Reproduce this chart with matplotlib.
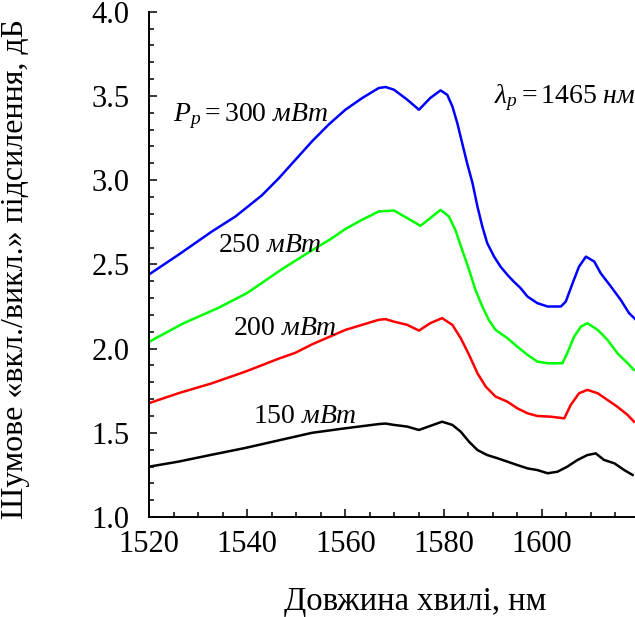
import matplotlib
matplotlib.use("Agg")
import matplotlib.pyplot as plt
from matplotlib.ticker import MultipleLocator, FormatStrFormatter

plt.rcParams["font.family"] = ["Liberation Serif", "DejaVu Serif"]
plt.rcParams["mathtext.fontset"] = "custom"
plt.rcParams["mathtext.rm"] = "Liberation Serif"
plt.rcParams["mathtext.it"] = "Liberation Serif:italic"
plt.rcParams["mathtext.bf"] = "Liberation Serif:bold"

# Noise on/off gain spectra for several pump powers (pump at 1465 nm)
wl_300 = [1520, 1526.0, 1532.8, 1537.6, 1543.0, 1546.4, 1549.8, 1553.2, 1556.6, 1560.0,
          1563.4, 1566.8, 1568.2, 1569.9, 1572.6, 1575.0, 1577.3, 1579.4, 1580.75, 1581.8,
          1582.8, 1583.8, 1584.8, 1585.9, 1586.9, 1587.9, 1588.9, 1590.3, 1591.6, 1593.0,
          1594.3, 1595.7, 1597.1, 1599.1, 1601.2, 1603.9, 1604.9, 1606.3, 1607.6, 1609.0,
          1610.7, 1612.0, 1614.1, 1616.1, 1617.8, 1619.2]
gain_300 = [2.44, 2.557, 2.695, 2.784, 2.91, 3.01, 3.12, 3.23, 3.33, 3.418,
            3.487, 3.547, 3.553, 3.537, 3.478, 3.418, 3.488, 3.533, 3.507, 3.438,
            3.339, 3.220, 3.101, 2.983, 2.844, 2.725, 2.626, 2.546, 2.487, 2.438,
            2.398, 2.359, 2.309, 2.270, 2.250, 2.250, 2.279, 2.389, 2.487, 2.546,
            2.517, 2.448, 2.368, 2.289, 2.210, 2.171]

wl_250 = [1520, 1527.0, 1534.0, 1540.0, 1547.0, 1553.0, 1557.0, 1560.0,
          1563.4, 1566.8, 1569.9, 1572.6, 1575.3, 1577.3, 1579.4, 1581.1, 1582.4, 1583.8,
          1585.2, 1586.5, 1587.9, 1589.2, 1590.6, 1593.0, 1595.0, 1597.1, 1599.1, 1601.2,
          1604.2, 1605.2, 1606.6, 1608.0, 1609.3, 1611.4, 1613.4, 1615.4, 1617.5, 1618.8]
gain_250 = [2.04, 2.15, 2.24, 2.33, 2.47, 2.58, 2.65, 2.71,
            2.765, 2.814, 2.820, 2.775, 2.729, 2.775, 2.824, 2.784, 2.705, 2.586,
            2.468, 2.349, 2.250, 2.171, 2.111, 2.062, 2.012, 1.963, 1.923, 1.913,
            1.913, 1.973, 2.071, 2.131, 2.151, 2.111, 2.052, 1.973, 1.913, 1.873]

wl_200 = [1520, 1526.0, 1532.8, 1539.6, 1546.4, 1549.8, 1553.2, 1560.0, 1566.8, 1568.2,
          1569.9, 1572.6, 1575.0, 1577.3, 1579.7, 1581.8, 1583.5, 1585.2, 1586.9, 1588.6,
          1590.6, 1593.0, 1595.0, 1597.1, 1599.1, 1601.8, 1604.6, 1605.9, 1607.6, 1609.3,
          1611.4, 1613.4, 1615.4, 1617.5, 1618.8]
gain_200 = [1.676, 1.735, 1.794, 1.863, 1.94, 1.975, 2.025, 2.111, 2.171, 2.175,
            2.160, 2.141, 2.107, 2.151, 2.181, 2.141, 2.062, 1.963, 1.854, 1.774,
            1.715, 1.685, 1.646, 1.616, 1.600, 1.596, 1.586, 1.665, 1.735, 1.755,
            1.735, 1.695, 1.655, 1.606, 1.566]

wl_150 = [1520, 1526.0, 1532.8, 1539.6, 1546.4, 1553.2, 1560.0, 1566.8, 1568.2, 1569.9,
          1572.6, 1575.0, 1577.3, 1579.7, 1581.8, 1583.5, 1585.2, 1586.9, 1588.9, 1591.0,
          1593.0, 1595.0, 1597.1, 1599.1, 1601.2, 1603.2, 1605.2, 1607.3, 1609.3, 1611.0,
          1612.7, 1614.8, 1616.8, 1618.5]
gain_150 = [1.299, 1.329, 1.37, 1.41, 1.455, 1.50, 1.527, 1.552, 1.555, 1.547,
            1.537, 1.517, 1.541, 1.566, 1.547, 1.507, 1.447, 1.398, 1.368, 1.349,
            1.329, 1.309, 1.289, 1.279, 1.260, 1.269, 1.299, 1.339, 1.368, 1.378,
            1.339, 1.319, 1.279, 1.250]

series = [
    (wl_300, gain_300, "#0000ff"),
    (wl_250, gain_250, "#00ff00"),
    (wl_200, gain_200, "#ff0000"),
    (wl_150, gain_150, "#000000"),
]

fig = plt.figure(figsize=(6.35, 6.17), dpi=100)
ax = fig.add_axes([0.2346, 0.162, 0.7654, 0.819])

for wl, g, c in series:
    ax.plot(wl, g, color=c, lw=1.8, solid_joinstyle="round")

ax.set_xlim(1520, 1619)
ax.set_ylim(1.0, 4.0)
ax.xaxis.set_major_locator(MultipleLocator(20))
ax.xaxis.set_minor_locator(MultipleLocator(5))
ax.yaxis.set_major_locator(MultipleLocator(0.5))
ax.yaxis.set_minor_locator(MultipleLocator(0.1))
ax.yaxis.set_major_formatter(FormatStrFormatter("%.1f"))

for side in ("top", "right"):
    ax.spines[side].set_visible(False)
for side in ("left", "bottom"):
    ax.spines[side].set_linewidth(1.4)

ax.tick_params(which="both", direction="in", width=1.1, labelsize=22)
ax.tick_params(which="major", length=6)
ax.tick_params(which="minor", length=3.5)
ax.tick_params(axis="y", which="both", pad=14)
ax.tick_params(axis="x", which="both", pad=9)

ax.set_xlabel("Довжина хвилі, нм", fontsize=23.5)
ax.xaxis.set_label_coords(0.547, -0.138)
ax.set_ylabel("Шумове «вкл./викл.» підсилення, дБ", fontsize=23)
ax.yaxis.set_label_coords(-0.245, 0.49)

ax.text(1524.9, 3.349, r"$P_p = 300\ \mathit{мВт}$", fontsize=20, va="baseline")
ax.text(1590.3, 3.458, r"$\lambda_p = 1465\ \mathit{нм}$", fontsize=20, va="baseline")
ax.text(1534.1, 2.576, r"$\mathrm{250}\ \mathit{мВт}$", fontsize=20, va="baseline")
ax.text(1537.2, 2.081, r"$\mathrm{200}\ \mathit{мВт}$", fontsize=20, va="baseline")
ax.text(1541.1, 1.557, r"$\mathrm{150}\ \mathit{мВт}$", fontsize=20, va="baseline")

fig.savefig("out.png", dpi=100)
